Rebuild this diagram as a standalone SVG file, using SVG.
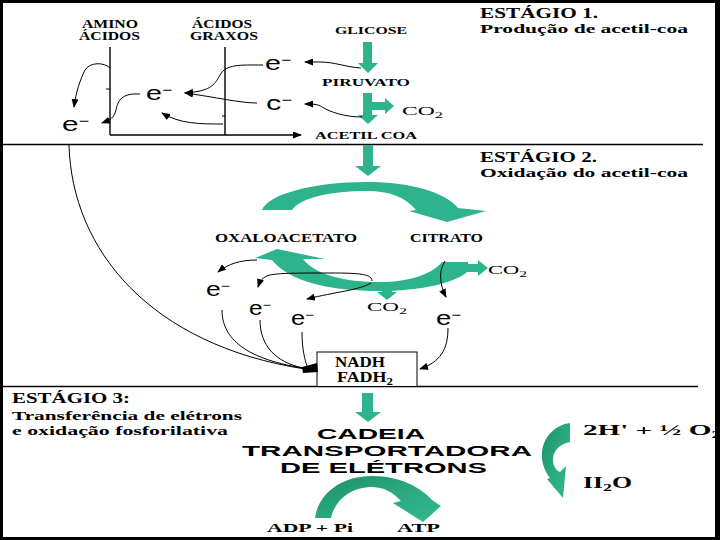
<svg xmlns="http://www.w3.org/2000/svg" width="720" height="540" viewBox="0 0 720 540">
<defs>
<style>
.s{font-family:"Liberation Serif","Times New Roman",serif;font-weight:bold;fill:#000}
.n{font-weight:normal}
.e{font-family:"Liberation Sans",Arial,sans-serif;font-size:20px;fill:#000}
.big{font-family:"Liberation Sans",Arial,sans-serif;font-weight:bold;font-size:15px;fill:#000}
.ln{fill:none;stroke:#000;stroke-width:1}
.ax{fill:none;stroke:#000;stroke-width:1.4}
.g{fill:#2eb48c}
.g3{fill:url(#gr3)}
</style>
<linearGradient id="gr3" x1="0" y1="0" x2="1" y2="1">
<stop offset="0" stop-color="#1c8f6a"/>
<stop offset="0.5" stop-color="#2aa97f"/>
<stop offset="1" stop-color="#33b88e"/>
</linearGradient>
<marker id="ah" markerWidth="9" markerHeight="7" refX="8" refY="3.5" orient="auto" markerUnits="userSpaceOnUse">
<path d="M0,0 L9,3.5 L0,7 Z" fill="#000"/>
</marker>
</defs>
<rect x="0" y="0" width="720" height="540" fill="#fff"/>

<!-- dividers -->
<g id="dividers">
<line x1="3" y1="144.5" x2="703" y2="144.5" stroke="#000" stroke-width="1.3"/>
<line x1="3" y1="386.5" x2="698" y2="386.5" stroke="#000" stroke-width="1.3"/>
</g>

<!-- Stage 1 -->
<g id="stage1-title">
<text class="s" x="480" y="18" font-size="15" textLength="118" lengthAdjust="spacingAndGlyphs">ESTÁGIO 1.</text>
<text class="s" x="480" y="33" font-size="13" textLength="208" lengthAdjust="spacingAndGlyphs">Produção de acetil-coa</text>
</g>
<g id="aminoacidos"><text class="s" x="82" y="28" font-size="11.5" textLength="56" lengthAdjust="spacingAndGlyphs">AMINO</text>
<text class="s" x="79" y="40" font-size="11.5" textLength="61" lengthAdjust="spacingAndGlyphs">ÁCIDOS</text></g>
<g id="acidosgraxos"><text class="s" x="192" y="28" font-size="11.5" textLength="60" lengthAdjust="spacingAndGlyphs">ÁCIDOS</text>
<text class="s" x="190" y="40" font-size="11.5" textLength="68" lengthAdjust="spacingAndGlyphs">GRAXOS</text></g>
<g id="glicose"><text class="s" x="335" y="34" font-size="11" textLength="72" lengthAdjust="spacingAndGlyphs">GLICOSE</text></g>
<g id="piruvato"><text class="s" x="322" y="86" font-size="11" textLength="88" lengthAdjust="spacingAndGlyphs">PIRUVATO</text></g>
<g id="acetilcoa"><text class="s" x="315" y="139" font-size="11" textLength="102" lengthAdjust="spacingAndGlyphs">ACETIL COA</text></g>
<g id="co2-1"><text class="s n" x="402" y="115" font-size="13" textLength="41" lengthAdjust="spacingAndGlyphs">CO<tspan dy="3" font-size="9">2</tspan></text></g>
<g id="e1a"><text class="e" x="265" y="70" textLength="26" lengthAdjust="spacingAndGlyphs">e<tspan dy="-6" font-size="12">−</tspan></text></g>
<g id="e1b"><text class="e" x="146" y="100" textLength="26" lengthAdjust="spacingAndGlyphs">e<tspan dy="-6" font-size="12">−</tspan></text></g>
<g id="e1c"><text class="e" x="266" y="110" textLength="26" lengthAdjust="spacingAndGlyphs">c<tspan dy="-6" font-size="12">−</tspan></text></g>
<g id="e1d"><text class="e" x="62" y="131" textLength="27" lengthAdjust="spacingAndGlyphs">e<tspan dy="-6" font-size="12">−</tspan></text></g>

<!-- Stage 2 -->
<g id="stage2-title">
<text class="s" x="480" y="162" font-size="15" textLength="117" lengthAdjust="spacingAndGlyphs">ESTÁGIO 2.</text>
<text class="s" x="480" y="177" font-size="13" textLength="208" lengthAdjust="spacingAndGlyphs">Oxidação do acetil-coa</text>
</g>
<g id="oxaloacetato"><text class="s" x="215" y="242" font-size="11.5" textLength="142" lengthAdjust="spacingAndGlyphs">OXALOACETATO</text></g>
<g id="citrato"><text class="s" x="410" y="242" font-size="11.5" textLength="73" lengthAdjust="spacingAndGlyphs">CITRATO</text></g>
<g id="co2-2"><text class="s n" x="488" y="274" font-size="13" textLength="39" lengthAdjust="spacingAndGlyphs">CO<tspan dy="3" font-size="9">2</tspan></text></g>
<g id="co2-3"><text class="s n" x="367" y="311" font-size="13" textLength="40" lengthAdjust="spacingAndGlyphs">CO<tspan dy="3" font-size="9">2</tspan></text></g>
<g id="e2a"><text class="e" x="206" y="296" textLength="24" lengthAdjust="spacingAndGlyphs">e<tspan dy="-6" font-size="12">−</tspan></text></g>
<g id="e2b"><text class="e" x="249" y="315" textLength="22" lengthAdjust="spacingAndGlyphs">e<tspan dy="-6" font-size="12">−</tspan></text></g>
<g id="e2c"><text class="e" x="291" y="325" textLength="23" lengthAdjust="spacingAndGlyphs">e<tspan dy="-6" font-size="12">−</tspan></text></g>
<g id="e2d"><text class="e" x="436" y="325" textLength="25" lengthAdjust="spacingAndGlyphs">e<tspan dy="-6" font-size="12">−</tspan></text></g>
<g id="nadh">
<rect x="317" y="352" width="100" height="34.5" fill="#fff" stroke="#000" stroke-width="1"/>
<text class="s" x="335" y="367" font-size="14" textLength="50" lengthAdjust="spacingAndGlyphs">NADH</text>
<text class="s" x="337" y="382" font-size="14" textLength="56" lengthAdjust="spacingAndGlyphs">FADH<tspan dy="3" font-size="10">2</tspan></text>
</g>

<!-- Stage 3 -->
<g id="stage3-title">
<text class="s" x="12" y="403" font-size="14" textLength="118" lengthAdjust="spacingAndGlyphs">ESTÁGIO 3:</text>
<text class="s" x="12" y="420" font-size="13.5" textLength="230" lengthAdjust="spacingAndGlyphs">Transferência de elétrons</text>
<text class="s" x="12" y="435" font-size="13.5" textLength="216" lengthAdjust="spacingAndGlyphs">e oxidação fosforilativa</text>
</g>
<g id="cadeia">
<text class="big" x="317" y="439" textLength="108" lengthAdjust="spacingAndGlyphs">CADEIA</text>
<text class="big" x="242" y="456" textLength="290" lengthAdjust="spacingAndGlyphs">TRANSPORTADORA</text>
<text class="big" x="280" y="473" textLength="207" lengthAdjust="spacingAndGlyphs">DE ELÉTRONS</text>
</g>
<g id="h2o-side">
<text class="s" x="583" y="435" font-size="15" textLength="139" lengthAdjust="spacingAndGlyphs">2H' + ½ O<tspan dy="3" font-size="11">2</tspan></text>
<text class="s" x="583" y="488" font-size="16" textLength="49" lengthAdjust="spacingAndGlyphs">II<tspan dy="3" font-size="11">2</tspan><tspan dy="-3">O</tspan></text>
</g>
<g id="adp"><text class="s" x="267" y="532" font-size="13" textLength="86" lengthAdjust="spacingAndGlyphs">ADP + Pi</text></g>
<g id="atp"><text class="s" x="397" y="532" font-size="13" textLength="43" lengthAdjust="spacingAndGlyphs">ATP</text></g>

<!-- green arrows -->
<g id="green-arrows">
<polygon class="g" points="363,42 372,42 372,63 378,63 368,73 358,63 363,63"/>
<polygon class="g" points="363,93 372,93 372,102 385,102 385,98 394,106 385,114 385,110 372,110 372,115 378,115 368,124 358,115 363,115"/>
<polygon class="g" points="363,145 373,145 373,166 381,166 368,176 355,166 363,166"/>
<path class="g" d="M262 210 C268 195 310 182 367 182 C410 182 445 192 458 208 L486 211 L447 222 L409 211 L416 210 C405 197 390 191 367 191 C330 191 300 198 292 210 Z"/>
<path class="g" d="M255 258 L277 249 L325 259 L303 259 C315 275 345 282 380 282 C410 282 432 274 442 262 L468 262 L468 264 L478 264 L478 260 L488 268 L478 276 L478 272 L467 272 C455 283 420 291 380 291 C330 291 290 282 272 260 Z"/>
<polygon class="g" points="382,288 392,288 392,292 397,292 387,300 377,292 382,292"/>
<polygon class="g" points="362,393 373,393 373,412 381,412 368,422 355,412 362,412"/>
<path class="g3" d="M315 518 C318 495 340 476 372 476 C400 476 420 487 432 500 L441 506 L423 522 L393 503 L401 501 C392 492 385 487 370 487 C350 488 335 500 331 518 Z"/>
<path class="g3" d="M570 423 L570 442 C560 444 553 450 553 460 C553 466 556 470 560 472 L566 466 L563 498 L547 479 L550 478 C545 472 541 462 542 452 C544 435 556 425 570 423 Z"/>
</g>

<!-- connectors -->
<g id="connectors">
<line class="ax" x1="110" y1="47" x2="110" y2="135"/>
<line class="ax" x1="225" y1="47" x2="225" y2="135" stroke-width="1.8"/>
<line class="ax" x1="110" y1="135" x2="301" y2="135" marker-end="url(#ah)"/>
<line class="ln" x1="106" y1="89" x2="110" y2="89"/>
<line class="ln" x1="222" y1="116" x2="225" y2="116"/>
<path class="ln" d="M361 68 C345 67 335 62 320 62 L305 62" marker-end="url(#ah)"/>
<path class="ln" d="M263 65 C240 65 226 64 220 75 C214 86 210 91 185 93" marker-end="url(#ah)"/>
<path class="ln" d="M257 103 C240 103 215 97 185 93" marker-end="url(#ah)"/>
<path class="ln" d="M362 117 C345 117 330 112 322 107 C318 104 313 104 305 104" marker-end="url(#ah)"/>
<path class="ln" d="M223 124 C200 124 180 124 162 113" marker-end="url(#ah)"/>
<path class="ln" d="M140 94 C122 93 118 100 116 110 C114 118 110 120 102 123" marker-end="url(#ah)"/>
<path class="ln" d="M110 68 C104 62 90 62 85 70 C80 80 76 92 74 107" marker-end="url(#ah)"/>
<path class="ln" d="M69 145 C72 250 150 345 305 369"/>
<path class="ln" d="M257 260 C240 260 228 264 218 272" marker-end="url(#ah)"/>
<path class="ln" d="M372 281 C372 274 360 273 330 273 C290 273 270 273 265 277 C260 280 259 284 258 287" marker-end="url(#ah)"/>
<path class="ln" d="M371 283 C360 290 335 292 307 299" marker-end="url(#ah)"/>
<path class="ln" d="M445 261 C438 272 440 285 446 297" marker-end="url(#ah)"/>
<path class="ln" d="M222 310 C222 335 240 358 303 368"/>
<path class="ln" d="M260 320 C260 345 275 362 303 368"/>
<path class="ln" d="M302 332 C302 350 305 360 307 366"/>
<path class="ln" d="M448 328 C448 350 440 362 420 369" marker-end="url(#ah)"/>
<polygon points="302,367 317,363 318,372 303,373" fill="#000"/>
</g>

<!-- frame -->
<path d="M0 0 H720 V540 H0 Z M3 3 V537 H715 V3 Z" fill="#000" fill-rule="evenodd"/>
</svg>
